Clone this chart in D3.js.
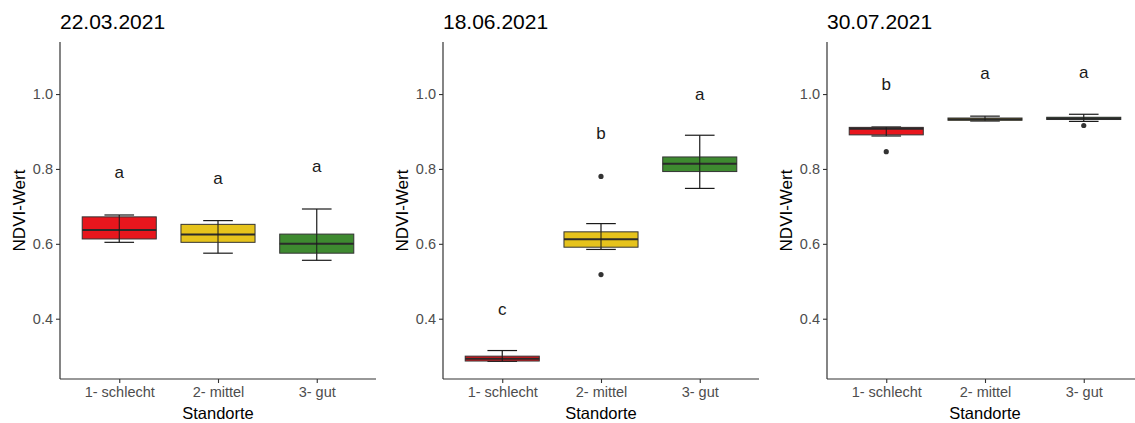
<!DOCTYPE html>
<html>
<head>
<meta charset="utf-8">
<script src="https://cdn.jsdelivr.net/npm/d3@7"></script>
<style>
  html, body { margin: 0; padding: 0; background: #fff; }
  svg { display: block; font-family: "Liberation Sans", Arial, sans-serif; }
</style>
</head>
<body>
<svg id="chart" width="1135" height="423"></svg>
<script>
// NDVI per site class at three survey dates
const dates = ["22.03.2021", "18.06.2021", "30.07.2021"];
const categories = ["1- schlecht", "2- mittel", "3- gut"];
const fills = ["#e8161d", "#e6c31c", "#3e8a30"];
const yTicks = [0.4, 0.6, 0.8, 1.0];

// Box statistics, one row per date, one entry per site class
const whiskerLow  = [[0.604, 0.575, 0.556], [0.286, 0.585, 0.748], [0.888, 0.928, 0.927]];
const q1          = [[0.613, 0.604, 0.575], [0.287, 0.591, 0.793], [0.891, 0.930, 0.932]];
const median      = [[0.637, 0.625, 0.600], [0.293, 0.612, 0.814], [0.907, 0.933, 0.935]];
const q3          = [[0.672, 0.652, 0.626], [0.300, 0.632, 0.832], [0.911, 0.936, 0.938]];
const whiskerHigh = [[0.677, 0.662, 0.693], [0.315, 0.654, 0.890], [0.912, 0.941, 0.946]];
const outliers    = [[[], [], []], [[], [0.780, 0.518], []], [[0.846], [], [0.916]]];

// Significance letters and their vertical placement
const letters = [["a", "a", "a"], ["c", "b", "a"], ["b", "a", "a"]];
const letterY = [[0.775, 0.759, 0.791], [0.410, 0.880, 0.984], [1.011, 1.039, 1.042]];

const svg = d3.select("#chart");
svg.append("rect").attr("width", 1135).attr("height", 423).attr("fill", "#fff");

const panelLeft = [60, 443, 827];
const plotW = 316, plotTop = 42, plotBottom = 379;

const y = d3.scaleLinear().domain([0.239, 1.139]).range([plotBottom, plotTop]);

dates.forEach((date, p) => {
  const x0 = panelLeft[p];
  const g = svg.append("g");
  const x = d3.scalePoint().domain(categories).range([x0, x0 + plotW]).padding(0.6);
  const step = x.step();
  const boxW = step * 0.75, capW = step * 0.3;

  // title
  g.append("text").attr("x", x0).attr("y", 29)
    .attr("font-size", 21).attr("fill", "#000").text(date);

  // axes
  const yAxis = g.append("g").attr("transform", `translate(${x0},0)`)
    .call(d3.axisLeft(y).tickValues(yTicks).tickFormat(d3.format(".1f")).tickSizeOuter(0).tickSizeInner(4).tickPadding(3));
  const xAxis = g.append("g").attr("transform", `translate(0,${plotBottom})`)
    .call(d3.axisBottom(x).tickSizeOuter(0).tickSizeInner(4).tickPadding(5));
  [yAxis, xAxis].forEach(a => {
    a.select(".domain").attr("stroke", "#333").attr("stroke-width", 1.2);
    a.selectAll(".tick line").attr("stroke", "#333").attr("stroke-width", 1.1);
    a.selectAll(".tick text").attr("fill", "#4d4d4d").attr("font-size", 14.5)
      .attr("font-family", "'Liberation Sans', Arial, sans-serif");
  });
  yAxis.select(".domain").attr("d", `M0,${plotTop}V${plotBottom}`);
  xAxis.select(".domain").attr("d", `M${x0},0H${x0 + plotW}`);
  xAxis.selectAll(".tick text").attr("dy", "0.71em").attr("y", 8);

  // axis titles
  g.append("text").attr("x", x0 + plotW / 2).attr("y", 419)
    .attr("text-anchor", "middle").attr("font-size", 16.5).attr("fill", "#000").text("Standorte");
  g.append("text")
    .attr("transform", `translate(${x0 - 35},${(plotTop + plotBottom) / 2}) rotate(-90)`)
    .attr("text-anchor", "middle").attr("font-size", 17).attr("fill", "#000").text("NDVI-Wert");

  categories.forEach((c, i) => {
    const cx = x(c);
    // whisker (error bar style)
    g.append("line").attr("x1", cx).attr("x2", cx)
      .attr("y1", y(whiskerLow[p][i])).attr("y2", y(whiskerHigh[p][i]))
      .attr("stroke", "#1a1a1a").attr("stroke-width", 1.2);
    [whiskerLow[p][i], whiskerHigh[p][i]].forEach(v => {
      g.append("line").attr("x1", cx - capW / 2).attr("x2", cx + capW / 2)
        .attr("y1", y(v)).attr("y2", y(v))
        .attr("stroke", "#1a1a1a").attr("stroke-width", 1.2);
    });
    // box
    g.append("rect").attr("x", cx - boxW / 2).attr("width", boxW)
      .attr("y", y(q3[p][i])).attr("height", y(q1[p][i]) - y(q3[p][i]))
      .attr("fill", fills[i]).attr("stroke", "#333").attr("stroke-width", 1);
    g.append("line").attr("x1", cx - boxW / 2).attr("x2", cx + boxW / 2)
      .attr("y1", y(median[p][i])).attr("y2", y(median[p][i]))
      .attr("stroke", "#2a2a2a").attr("stroke-width", 2);
    // whisker line shows through the box
    g.append("line").attr("x1", cx).attr("x2", cx)
      .attr("y1", y(q3[p][i])).attr("y2", y(q1[p][i]))
      .attr("stroke", "#1a1a1a").attr("stroke-width", 1);
    // outliers
    outliers[p][i].forEach(v => {
      g.append("circle").attr("cx", cx).attr("cy", y(v)).attr("r", 2.6).attr("fill", "#333");
    });
    // letter
    g.append("text").attr("x", cx).attr("y", y(letterY[p][i]))
      .attr("text-anchor", "middle").attr("font-size", 17).attr("fill", "#1a1a1a").text(letters[p][i]);
  });
});
</script>
</body>
</html>
